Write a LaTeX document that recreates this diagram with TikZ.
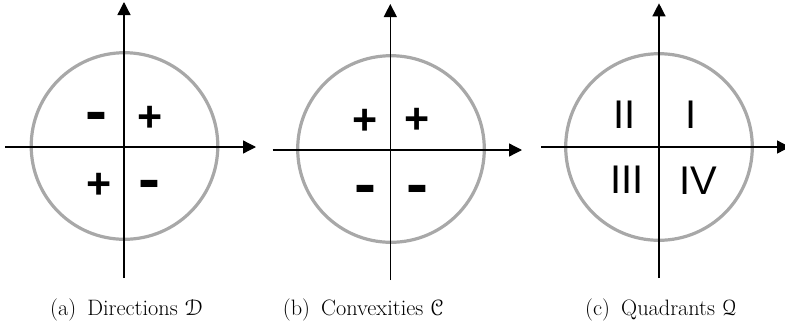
\documentclass[tikz,border=0pt]{standalone}
\usepackage{fontspec}
\usepackage{eucal}
\newfontfamily\arialfont{Liberation Sans}
\usetikzlibrary{arrows.meta}
\definecolor{ringgray}{RGB}{168,168,168}
\newcommand{\widehyphen}{\scalebox{1.1}[1]{-}}
\tikzset{
  axis/.style={line width=1.3pt, -{Triangle[length=13pt,width=13pt]}},
  ring/.style={draw=ringgray, line width=3.2pt},
  plussign/.style={inner sep=0pt, yshift=-1.5pt, font=\arialfont\bfseries\fontsize{43}{43}\selectfont},
  minussign/.style={inner sep=0pt, yshift=-9.7pt, font=\arialfont\bfseries\fontsize{60}{60}\selectfont},
  romanlabel/.style={inner sep=0pt, font=\arialfont\fontsize{40}{40}\selectfont},
  captext/.style={anchor=base west, inner sep=0pt, font=\fontsize{22.3}{27}\selectfont}
}
\begin{document}
\begin{tikzpicture}[x=1pt,y=-1pt]
\useasboundingbox (0,0) rectangle (785,325);
% ---------- (a) ----------
\coordinate (ao) at (124.5,146);
\coordinate (as) at (124,278);
\coordinate (an) at (124,2);
\coordinate (aw) at (5,147);
\coordinate (ae) at (256,147);
\draw[ring] (ao) circle[radius=93.3];
\draw[axis] (as) -- (an);
\draw[axis] (aw) -- (ae);
\node[minussign] (a1) at (96,112.7) {\widehyphen};
\node[plussign] (a2) at (149.7,117.5) {+};
\node[plussign] (a3) at (98.8,184.7) {+};
\node[minussign] (a4) at (149.7,180) {\widehyphen};
\node[captext] (acap) at (50,315.7) {(a)\hspace{0.5em}Directions $\mathcal{D}$};
% ---------- (b) ----------
\coordinate (bo) at (391,149);
\coordinate (bs) at (390.3,280);
\coordinate (bn) at (390.3,4);
\coordinate (bw) at (272.7,150);
\coordinate (be) at (522,150);
\draw[ring] (bo) circle[radius=93.3];
\draw[axis] (bs) -- (bn);
\draw[axis] (bw) -- (be);
\node[plussign] (b1) at (365.3,120) {+};
\node[plussign] (b2) at (416.7,119.3) {+};
\node[minussign] (b3) at (365,185) {\widehyphen};
\node[minussign] (b4) at (417,185) {\widehyphen};
\node[captext] (bcap) at (282.7,315.7) {(b)\hspace{0.5em}Convexities $\mathcal{C}$};
% ---------- (c) ----------
\coordinate (co) at (659,147);
\coordinate (cs) at (659,278);
\coordinate (cn) at (659,3.3);
\coordinate (cw) at (541,147);
\coordinate (ce) at (790,147);
\draw[ring] (co) circle[radius=93.3];
\draw[axis] (cs) -- (cn);
\draw[axis] (cw) -- (ce);
\node[romanlabel] (c1) at (691.3,115) {I};
\node[romanlabel] (c2) at (624.7,115) {II};
\node[romanlabel] (c3) at (626.7,180) {III};
\node[romanlabel] (c4) at (698.7,181) {IV};
\node[captext] (ccap) at (585,315.7) {(c)\hspace{0.5em}Quadrants $\mathcal{Q}$};
\end{tikzpicture}
\end{document}
